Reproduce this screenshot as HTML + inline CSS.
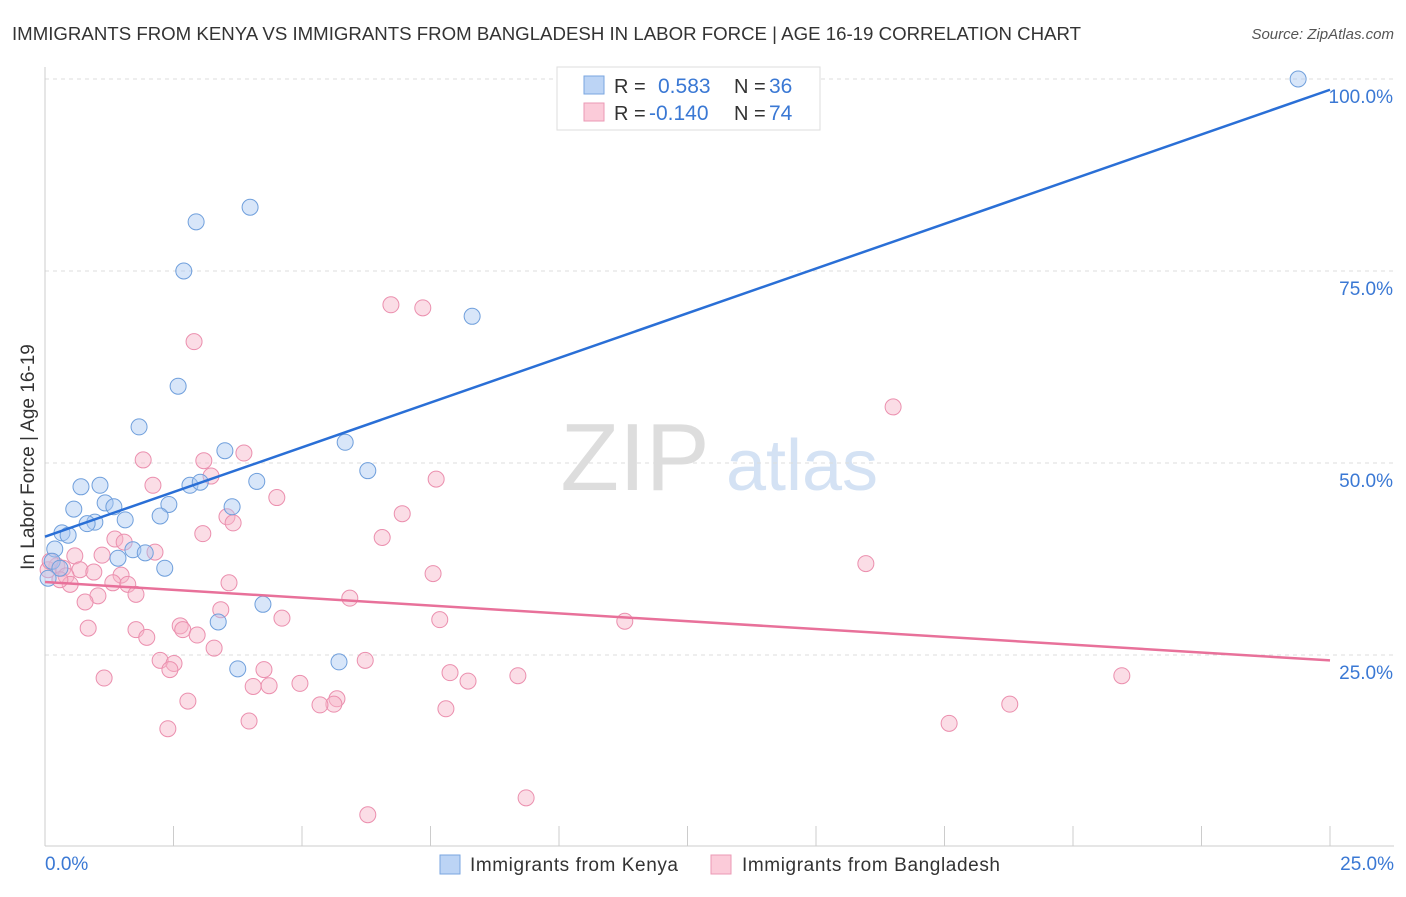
<!DOCTYPE html>
<html><head><meta charset="utf-8"><style>
body{margin:0;background:#fff;font-family:"Liberation Sans",sans-serif;}
svg text{font-family:"Liberation Sans",sans-serif;}
</style></head><body>
<svg id="chart" width="1406" height="892" xmlns="http://www.w3.org/2000/svg">
<text x="12" y="40" font-size="18.5" fill="#333" textLength="1069" lengthAdjust="spacingAndGlyphs">IMMIGRANTS FROM KENYA VS IMMIGRANTS FROM BANGLADESH IN LABOR FORCE | AGE 16-19 CORRELATION CHART</text>
<text x="1394" y="39" font-size="15" fill="#555" font-style="italic" text-anchor="end">Source: ZipAtlas.com</text>
<g>
<text x="635" y="490" font-size="96" fill="#ddd" font-family="Liberation Serif" text-anchor="middle">ZIP</text>
<text x="802" y="490" font-size="72" fill="#d4e2f4" text-anchor="middle">atlas</text>
</g>
<g id="grid"></g>
<line x1="45" y1="846" x2="1394" y2="846" stroke="#ccc"/>
<line x1="45" y1="67" x2="45" y2="846" stroke="#ccc"/>
<g id="xticks"></g>
<g id="yticks"></g>
<text transform="translate(34,457) rotate(-90)" font-size="19" fill="#333" text-anchor="middle">In Labor Force | Age 16-19</text>
<text x="45" y="870" font-size="19" fill="#3a78d4">0.0%</text>
<text x="1394" y="870" font-size="19" fill="#3a78d4" text-anchor="end">25.0%</text>
<g id="pts"></g>
<g id="lines"></g>
<g>
<rect x="557" y="67" width="263" height="63" fill="#fff" stroke="#ddd"/>
<rect x="584" y="76" width="20" height="18" fill="#bcd4f5" stroke="#7aa6e0"/>
<rect x="584" y="103" width="20" height="18" fill="#fbcbd9" stroke="#eb9ab5"/>
<text x="614" y="93" font-size="20" fill="#333">R =</text>
<text x="658" y="93" font-size="21" fill="#3a78d4">0.583</text>
<text x="734" y="93" font-size="20" fill="#333">N =</text>
<text x="769" y="93" font-size="21" fill="#3a78d4">36</text>
<text x="614" y="120" font-size="20" fill="#333">R =</text>
<text x="649" y="120" font-size="21" fill="#3a78d4">-0.140</text>
<text x="734" y="120" font-size="20" fill="#333">N =</text>
<text x="769" y="120" font-size="21" fill="#3a78d4">74</text>
</g>
<g>
<rect x="440" y="855" width="20" height="19" fill="#bcd4f5" stroke="#7aa6e0"/>
<text x="470" y="871" font-size="19" fill="#333" textLength="208">Immigrants from Kenya</text>
<rect x="711" y="855" width="20" height="19" fill="#fbcbd9" stroke="#eb9ab5"/>
<text x="742" y="871" font-size="19" fill="#333" textLength="258">Immigrants from Bangladesh</text>
</g>
</svg>
<script>
const kenyaX=[24.38,3.99,2.94,2.70,8.31,2.59,1.83,5.84,3.50,6.28,4.12,2.82,3.02,0.70,1.07,1.17,1.34,2.41,3.64,0.56,2.24,1.56,0.97,0.82,0.33,0.45,0.19,1.71,1.95,1.42,0.14,2.33,0.29,4.24,3.37,3.75,5.72,0.06];
const kenyaY=[100.0,83.3,81.4,75.0,69.1,60.0,54.7,52.7,51.6,49.0,47.6,47.1,47.5,46.9,47.1,44.8,44.3,44.6,44.3,44.0,43.1,42.6,42.3,42.1,40.9,40.6,38.8,38.7,38.3,37.6,37.2,36.3,36.3,31.6,29.3,23.2,24.1,35.0];
const bangX=[6.73,7.35,2.90,16.50,3.87,1.91,3.09,3.23,7.61,2.10,4.51,6.95,3.54,3.66,3.07,6.56,1.36,1.54,2.14,1.11,0.58,15.97,7.55,0.23,0.35,0.68,0.95,1.48,0.06,0.41,1.32,1.61,0.49,3.58,1.77,1.03,5.93,0.78,3.42,7.68,4.61,11.28,0.84,1.77,2.63,2.68,1.98,2.96,3.29,2.24,2.51,2.43,4.26,7.88,6.23,8.23,9.20,20.95,1.15,4.05,4.36,4.96,5.68,5.62,5.35,18.77,2.78,7.80,3.97,17.59,2.39,9.36,6.28,0.10,0.29];
const bangY=[70.6,70.2,65.8,57.3,51.3,50.4,50.3,48.3,47.9,47.1,45.5,43.4,43.0,42.2,40.8,40.3,40.1,39.7,38.4,38.0,37.9,36.9,35.6,36.6,36.3,36.1,35.8,35.4,36.1,35.3,34.4,34.2,34.2,34.4,32.9,32.7,32.4,31.9,30.9,29.6,29.8,29.4,28.5,28.3,28.8,28.3,27.3,27.6,25.9,24.3,23.9,23.1,23.1,22.7,24.3,21.6,22.3,22.3,22.0,20.9,21.0,21.3,19.3,18.6,18.5,18.6,19.0,18.0,16.4,16.1,15.4,6.4,4.2,37.2,34.8];
const kenyaTrend=[40.4,98.6];
const bangTrend=[34.5,24.3];
const yTicks=[25,50,75,100];
const yTickLabels=["25.0%","50.0%","75.0%","100.0%"];
const xTicks=[0,2.5,5,7.5,10,12.5,15,17.5,20,22.5,25];
const NS="http://www.w3.org/2000/svg";
const xs=v=>45+v/25*1285;
const ys=v=>655-(v-25)*7.68;
function mk(tag,attrs,parent){const e=document.createElementNS(NS,tag);for(const k in attrs)e.setAttribute(k,attrs[k]);document.getElementById(parent).appendChild(e);return e;}
yTicks.forEach((t,i)=>{
 const g=mk('line',{x1:45,x2:1394,y1:ys(t),y2:ys(t),stroke:'#ddd','stroke-dasharray':'4,4'},'grid');
 
 
 const l=mk('text',{x:1393,y:ys(t)+24,'font-size':19,fill:'#3a78d4','text-anchor':'end'},'yticks');
 l.textContent=yTickLabels[i];
 
 
});
xTicks.forEach(t=>{
 const l=mk('line',{x1:xs(t),x2:xs(t),y1:826,y2:846,stroke:'#ccc'},'xticks');
 
 
});
function pts(X,Y,fill,stroke,name){X.forEach((x,i)=>{
 const c=mk('circle',{cx:xs(x),cy:ys(Y[i]),r:8,fill:fill,'fill-opacity':0.45,stroke:stroke,'stroke-width':1},'pts');
 
 
});}
pts(bangX,bangY,'#f7b3c8','#eb8fae','bangladesh-point');
pts(kenyaX,kenyaY,'#a9c8f2','#6f9fdc','kenya-point');
const l1=mk('line',{x1:xs(0),y1:ys(kenyaTrend[0]),x2:xs(25),y2:ys(kenyaTrend[1]),stroke:'#2a6fd6','stroke-width':2.5},'lines');


const l2=mk('line',{x1:xs(0),y1:ys(bangTrend[0]),x2:xs(25),y2:ys(bangTrend[1]),stroke:'#e8719a','stroke-width':2.5},'lines');


</script>
</body></html>
